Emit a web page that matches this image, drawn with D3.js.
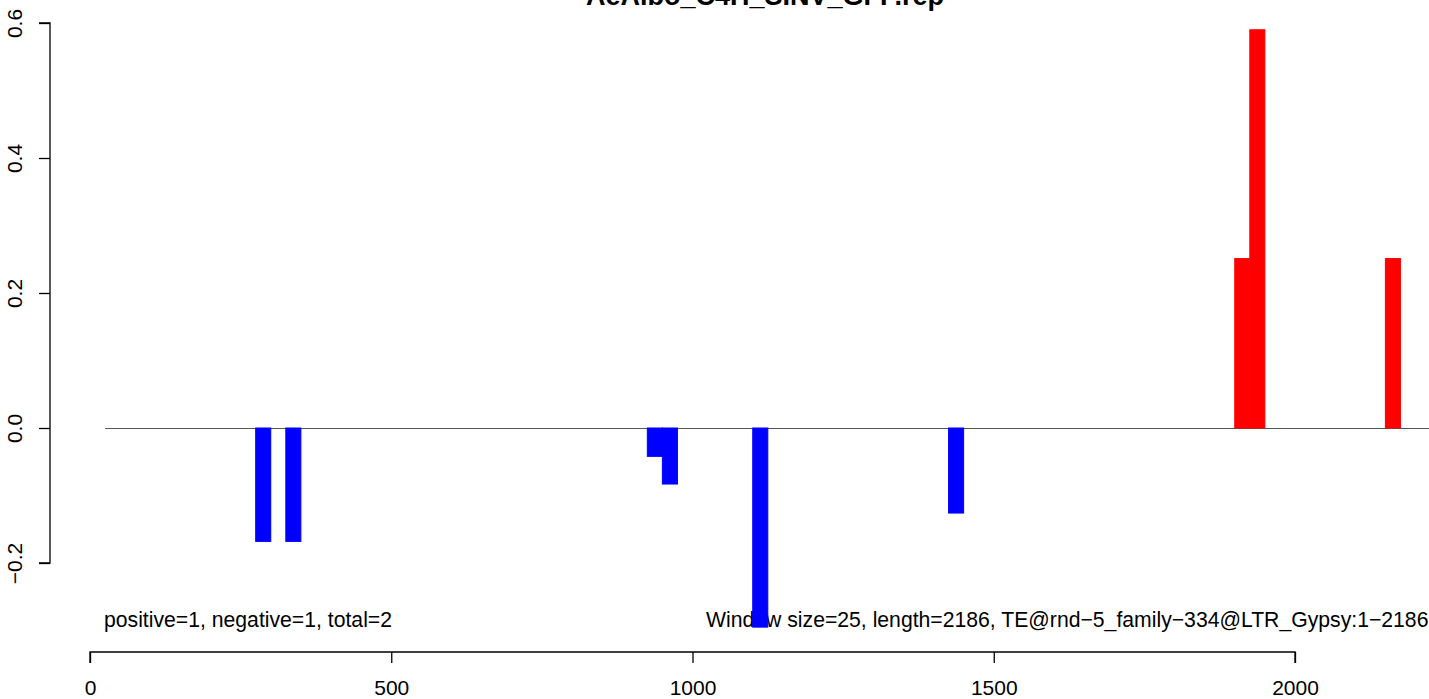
<!DOCTYPE html>
<html>
<head>
<meta charset="utf-8">
<script src="https://cdn.jsdelivr.net/npm/d3@7/dist/d3.min.js"></script>
<style>
html,body{margin:0;padding:0;background:#fff;overflow:hidden;}
svg{display:block;font-family:"Liberation Sans",Arial,sans-serif;}
</style>
</head>
<body>
<script>
const titleText = "AeAlbo_C4H_SINV_GFP.rep";
const leftNote = "positive=1, negative=1, total=2";
const rightNote = "Window size=25, length=2186, TE@rnd\u22125_family\u2212334@LTR_Gypsy:1\u22122186";
const windowSize = 25;
const xTicks = [0, 500, 1000, 1500, 2000];
const yTicks = [-0.2, 0.0, 0.2, 0.4, 0.6];
const yTickLabels = ["\u22120.2", "0.0", "0.2", "0.4", "0.6"];
const negStarts = [275, 325, 925, 950, 1100, 1425];
const negValues = [-0.168, -0.168, -0.042, -0.083, -0.295, -0.126];
const posStarts = [1900, 1925, 2150];
const posValues = [0.251, 0.590, 0.251];
const baselineRange = [25, 2260];

const W = 1429, H = 699;
const svg = d3.select("body").append("svg").attr("width", W).attr("height", H);
const x = d3.scaleLinear().domain([0, 2000]).range([90, 1295]);
const y = d3.scaleLinear().domain([-0.2, 0.6]).range([563, 23]);

// title
svg.append("text").attr("x", 765).attr("y", 5).attr("text-anchor", "middle")
  .attr("font-weight", "bold").attr("font-size", 27).text(titleText);

// notes (drawn before bars)
svg.append("text").attr("x", 104).attr("y", 627).attr("font-size", 21.2).text(leftNote);
svg.append("text").attr("x", 706).attr("y", 627).attr("font-size", 21.2).text(rightNote);

// baseline
svg.append("line").attr("x1", x(baselineRange[0])).attr("x2", x(baselineRange[1]))
  .attr("y1", y(0) + 0.5).attr("y2", y(0) + 0.5).attr("stroke", "#555").attr("stroke-width", 1);

// bars
const neg = negStarts.map((s, i) => ({s, v: negValues[i]}));
const pos = posStarts.map((s, i) => ({s, v: posValues[i]}));
function bars(data, color) {
  svg.append("g").selectAll("rect").data(data).join("rect")
    .attr("x", d => x(d.s))
    .attr("width", d => x(d.s + windowSize) - x(d.s))
    .attr("y", d => Math.min(y(0), y(d.v)))
    .attr("height", d => Math.abs(y(d.v) - y(0)))
    .attr("fill", color).attr("stroke", color).attr("stroke-width", 1);
}
bars(neg, "#0000ff");
bars(pos, "#ff0000");

// x axis
const xa = svg.append("g").attr("transform", "translate(0,652)")
  .call(d3.axisBottom(x).tickValues(xTicks).tickSize(11).tickPadding(17).tickFormat(d3.format("d")));
xa.select(".domain").attr("stroke", "#000").attr("stroke-width", 1.3).attr("d", `M${x(0)},11V0H${x(2000)}V11`);
xa.selectAll(".tick line").attr("stroke", "#000").attr("stroke-width", 1.3);
xa.selectAll(".tick text").attr("font-size", 21).attr("fill", "#000")
  .attr("font-family", "Liberation Sans, Arial, sans-serif");

// y axis
const ya = svg.append("g").attr("transform", "translate(50,0)")
  .call(d3.axisLeft(y).tickValues(yTicks).tickSize(11).tickFormat((d, i) => yTickLabels[i]));
ya.select(".domain").attr("stroke", "#000").attr("stroke-width", 1.3).attr("d", `M-11,${y(-0.2)}H0V${y(0.6)}H-11`);
ya.selectAll(".tick line").attr("stroke", "#000").attr("stroke-width", 1.3);
ya.selectAll(".tick text").attr("font-size", 21).attr("fill", "#000")
  .attr("font-family", "Liberation Sans, Arial, sans-serif")
  .attr("text-anchor", "middle").attr("dy", 0)
  .attr("transform", "rotate(-90)")
  .attr("x", 0).attr("y", -28);
</script>
</body>
</html>
